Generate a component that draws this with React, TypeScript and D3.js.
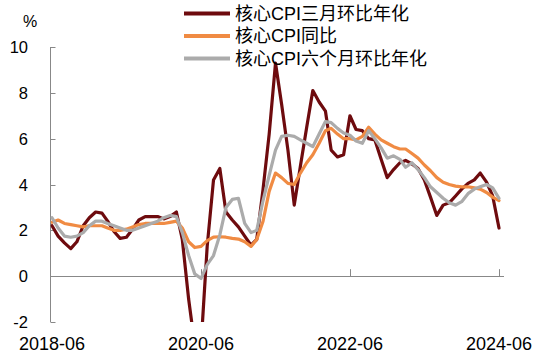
import React from "react";
import * as d3 from "d3";

const START = "2018-06";
const END = "2024-06";
const tickLabels = ["2018-06", "2020-06", "2022-06", "2024-06"];
const yTicks = [-2, 0, 2, 4, 6, 8, 10];
const seriesNames = ["核心CPI三月环比年化", "核心CPI同比", "核心CPI六个月环比年化"];

const core3m = [
  2.2, 1.75, 1.45, 1.2, 1.5, 2.2, 2.55, 2.8, 2.75, 2.4, 1.95, 1.65, 1.7, 2.05, 2.45, 2.6, 2.6, 2.6, 2.5, 2.6,
  2.8, 1.6, -1.0, -3.0, -3.0, 1.3, 4.2, 4.7, 2.8, 2.45, 2.15, 1.75, 1.35, 1.6, 3.8, 6.2, 9.3, 7.5, 5.5, 3.1,
  4.8, 6.5, 8.1, 7.6, 7.2, 5.5, 5.2, 5.3, 7.0, 6.4, 6.35, 6.0, 5.95, 5.1, 4.3, 4.65, 4.95, 5.05, 4.9, 4.7,
  4.2, 3.45, 2.65, 3.1, 3.2, 3.5, 3.8, 4.05, 4.2, 4.5, 4.1, 3.5, 2.1,
];
const coreYoY = [
  2.35, 2.45, 2.3, 2.25, 2.2, 2.15, 2.2, 2.2, 2.2, 2.1, 2.0, 2.0, 2.05, 2.15, 2.25, 2.3, 2.3, 2.3, 2.3, 2.35,
  2.4, 2.1, 1.5, 1.25, 1.3, 1.55, 1.7, 1.72, 1.7, 1.65, 1.62, 1.5, 1.3, 1.6, 2.4, 3.7, 4.5, 4.3, 4.05, 4.0,
  4.5, 4.95, 5.3, 5.8, 6.35, 6.45, 6.2, 6.0, 6.0, 5.95, 6.1, 6.5, 6.2, 5.95, 5.8, 5.65, 5.55, 5.55, 5.35, 5.15,
  4.85, 4.6, 4.3, 4.1, 4.0, 3.93, 3.9, 3.9, 3.85, 3.8, 3.65, 3.45, 3.3,
];
const core6m = [
  2.55, 2.1, 1.75, 1.7, 1.75, 1.9, 2.2, 2.4, 2.4, 2.3, 2.2, 2.1, 2.0, 2.0, 2.1, 2.2, 2.3, 2.4, 2.55, 2.65,
  2.6, 1.9, 0.9, 0.1, -0.1, 0.5, 0.9, 1.8, 3.0, 3.35, 3.4, 2.3, 1.9, 2.0, 3.3, 4.4, 5.5, 6.1, 6.15, 6.1,
  5.95, 5.8, 5.65, 6.2, 6.75, 6.7, 6.45, 6.25, 6.15, 5.9, 5.8, 6.35, 6.0, 5.6, 5.15, 5.25, 5.1, 4.75, 4.95, 4.65,
  4.3, 3.9, 3.65, 3.4, 3.2, 3.1, 3.25, 3.6, 3.8, 3.9, 4.0, 3.85, 3.4,
];
const colors = ["#6E0B0E", "#F08B43", "#ABABAB"];

const parse = d3.timeParse("%Y-%m");
const startDate = parse(START) as Date;
const endDate = parse(END) as Date;
const months = d3.timeMonth.range(startDate, d3.timeMonth.offset(endDate, 1));

const W = 550;
const H = 357;
const NUM_FONT = "'Liberation Sans', Arial, sans-serif";
const CJK_FONT = "'Liberation Sans', Arial, 'Noto Sans CJK SC', sans-serif";

export default function App() {
  const x = d3.scaleTime().domain([startDate, endDate]).range([52, 499]);
  const y = d3.scaleLinear().domain([-2, 10]).range([322, 47]);
  const axisX = 50.5;
  const axisColor = "#888888";

  const line = d3
    .line<number>()
    .x((_, i) => x(months[i]))
    .y((d) => y(d));

  const series = [core3m, coreYoY, core6m];
  const legendY = [13.5, 36, 58.5];

  return (
    <svg
      width={W}
      height={H}
      style={{ position: "absolute", left: 0, top: 0, background: "#fff" }}
    >
      <defs>
        <clipPath id="plotClip">
          <rect x={axisX} y={0} width={W - axisX} height={y(-2)} />
        </clipPath>
      </defs>

      {/* y axis */}
      <line x1={axisX} x2={axisX} y1={y(10)} y2={y(-2)} stroke={axisColor} strokeWidth={1} />
      {yTicks.map((t) => (
        <g key={t}>
          <line x1={axisX} x2={axisX + 5} y1={Math.round(y(t)) + 0.5} y2={Math.round(y(t)) + 0.5} stroke={axisColor} strokeWidth={1} />
          <text
            x={28}
            y={y(t)}
            textAnchor="end"
            dominantBaseline="central"
            fontFamily={NUM_FONT}
            fontSize={16.5}
            fill="#000"
          >
            {t}
          </text>
        </g>
      ))}
      <text x={30} y={27} textAnchor="middle" fontFamily={NUM_FONT} fontSize={16} fill="#000">
        %
      </text>

      {/* x axis at zero */}
      <line
        x1={axisX}
        x2={504}
        y1={Math.round(y(0)) + 0.5}
        y2={Math.round(y(0)) + 0.5}
        stroke={axisColor}
        strokeWidth={1}
      />
      {tickLabels.map((lab, i) => {
        const d = parse(lab) as Date;
        const px = x(d);
        return (
          <g key={lab}>
            {i > 0 && (
              <line
                x1={Math.round(px) + 0.5}
                x2={Math.round(px) + 0.5}
                y1={y(0) - 7}
                y2={y(0)}
                stroke={axisColor}
                strokeWidth={1}
              />
            )}
            <text x={px} y={350} textAnchor="middle" fontFamily={NUM_FONT} fontSize={18} fill="#000">
              {lab}
            </text>
          </g>
        );
      })}

      {/* series */}
      <g clipPath="url(#plotClip)">
        {series.map((s, i) => (
          <path
            key={i}
            d={line(s) || ""}
            fill="none"
            stroke={colors[i]}
            strokeWidth={3.2}
            strokeLinejoin="round"
            strokeLinecap="round"
          />
        ))}
      </g>

      {/* legend */}
      {seriesNames.map((name, i) => (
        <g key={name}>
          <line x1={184} x2={230} y1={legendY[i]} y2={legendY[i]} stroke={colors[i]} strokeWidth={4} />
          <text
            x={235}
            y={legendY[i]}
            dominantBaseline="central"
            fontFamily={CJK_FONT}
            fontSize={18}
            fill="#000"
          >
            {name}
          </text>
        </g>
      ))}
    </svg>
  );
}
